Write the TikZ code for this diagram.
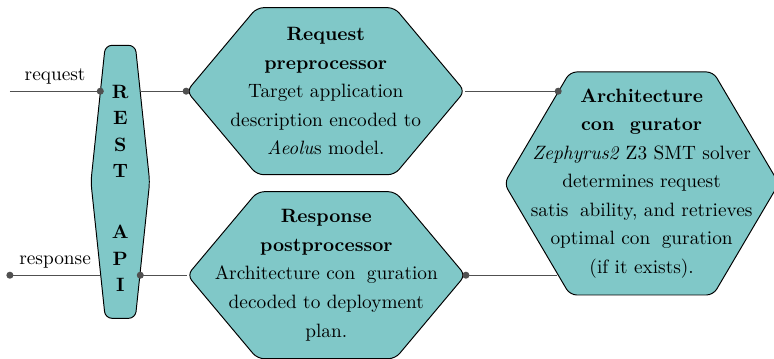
\documentclass[tikz,border=0pt]{standalone}
\usepackage{xcolor}
\usepackage{tikz}
\usetikzlibrary{arrows.meta, positioning, shapes.symbols, calc}
\definecolor{hexteal}{HTML}{80C8C8}
\definecolor{linkgray}{HTML}{505050}

\begin{document}
\begin{tikzpicture}[
    hexbox/.style={shape=signal, signal to=east and west, draw=black, fill=hexteal,
        line width=0.5pt, rounded corners=3.5pt, inner sep=0pt},
    hextext/.style={align=center, font=\fontsize{10}{14.8}\selectfont},
    link/.style={-{Circle[length=3.6pt]}, line width=0.5pt, linkgray, shorten >=-1.8pt}
]
    \useasboundingbox (0,0) rectangle (14.09,6.52);

    % REST API
    \node[hexbox, signal pointer angle=168, minimum width=1.07cm, minimum height=4.97cm,
        label={[hextext, font=\bfseries\fontsize{10}{13.7}\selectfont, yshift=-0.12cm, name=resttext]center:R\\E\\S\\T\\[18pt]A\\P\\I}] (rest) at (2.19,3.21) {};

    % Request preprocessor
    \node[hexbox, signal pointer angle=100, minimum width=5.06cm, minimum height=3.04cm,
        label={[hextext, name=reqtext]center:\textbf{Request}\\\textbf{preprocessor}\\Target application\\description encoded to\\\textit{Aeolu}s model.}] (req) at (5.93,4.86) {};

    % Response postprocessor
    \node[hexbox, signal pointer angle=100, minimum width=5.06cm, minimum height=3.04cm,
        label={[hextext, name=resptext]center:\textbf{Response}\\\textbf{postprocessor}\\Architecture con\hspace{.6em}guration\\decoded to deployment\\plan.}] (resp) at (5.94,1.51) {};

    % Architecture configurator
    \node[hexbox, signal pointer angle=119, minimum width=5.0cm, minimum height=4.06cm,
        label={[hextext, name=archtext]center:\textbf{Architecture}\\\textbf{con\hspace{.8em}gurator}\\\textit{Zephyrus2} Z3 SMT solver\\determines request\\satis\hspace{.6em}ability, and retrieves\\optimal con\hspace{.6em}guration\\(if it exists).}] (arch) at (11.68,3.18) {};

    % Request path
    \coordinate (reqin) at (0.18,4.86);
    \draw[link] (reqin) -- node[above, text=black] {request} (reqin -| rest.102.6);
    \draw[link] (rest.77.4 |- req.west) -- (req.west);
    \draw[link] (req.east) -- (req.east -| arch.132.3);

    % Response path
    \draw[link] (arch.227.7 |- resp.east) -- (resp.east);
    \draw[link] (resp.west) -- (resp.west -| rest.282);
    \coordinate (respout) at (0.18,1.51);
    \draw[link] (resp.west -| rest.258) -- node[above, text=black] {response} (respout);
\end{tikzpicture}
\end{document}
